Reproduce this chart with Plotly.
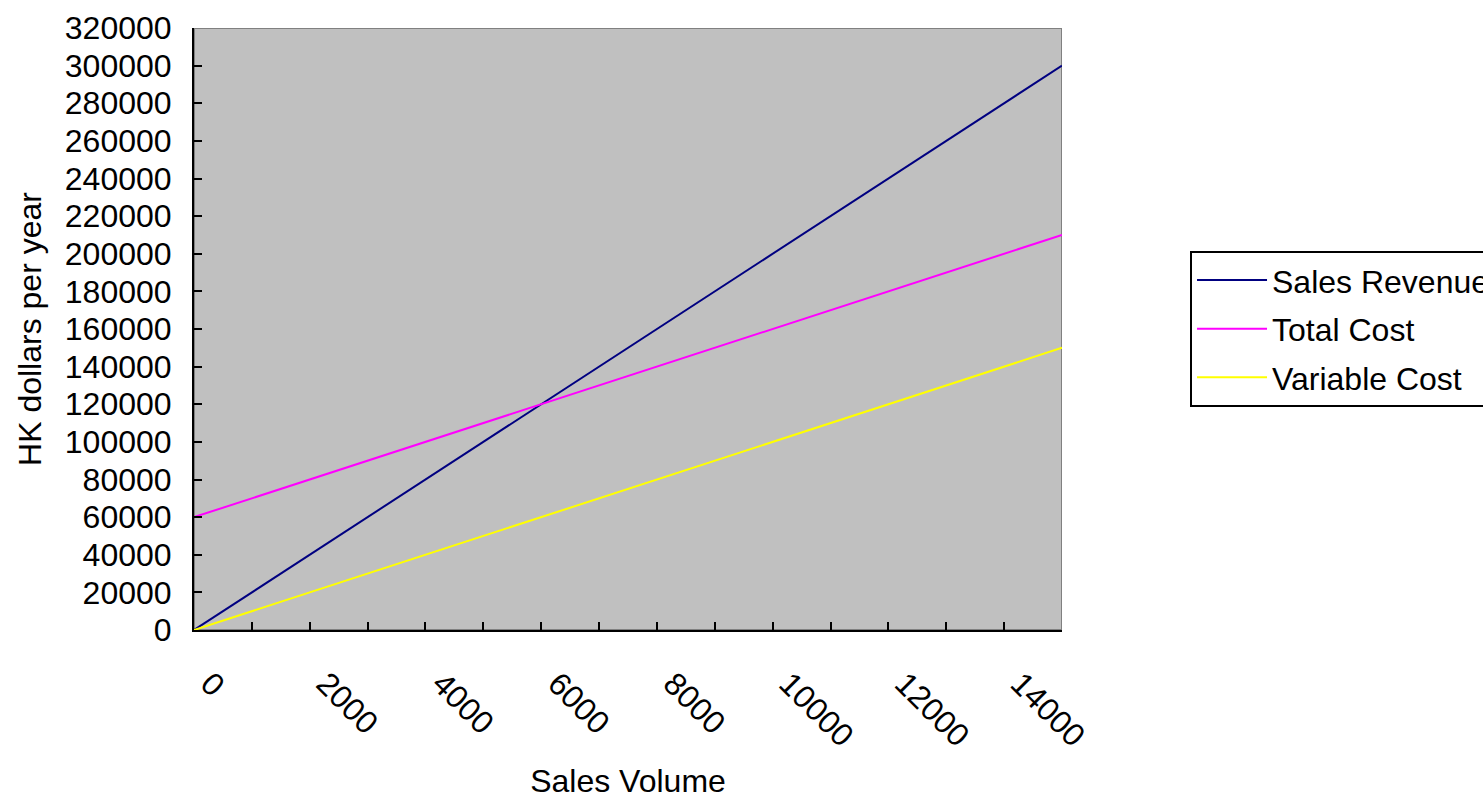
import plotly.graph_objects as go

# Break-even data: annual revenue and costs against units sold
volume = [0, 1000, 2000, 3000, 4000, 5000, 6000, 7000,
          8000, 9000, 10000, 11000, 12000, 13000, 14000, 15000]
sales_revenue = [0, 20000, 40000, 60000, 80000, 100000, 120000, 140000,
                 160000, 180000, 200000, 220000, 240000, 260000, 280000, 300000]
total_cost = [60000, 70000, 80000, 90000, 100000, 110000, 120000, 130000,
              140000, 150000, 160000, 170000, 180000, 190000, 200000, 210000]
variable_cost = [0, 10000, 20000, 30000, 40000, 50000, 60000, 70000,
                 80000, 90000, 100000, 110000, 120000, 130000, 140000, 150000]

# Category labels shown on every second tick
x_tick_labels = ["0", "", "2000", "", "4000", "", "6000", "", "8000", "",
                 "10000", "", "12000", "", "14000", ""]
y_ticks = list(range(0, 320001, 20000))

FONT = "Liberation Sans, Arial, sans-serif"
SIZE = 32

fig = go.Figure()
series = [
    ("Sales Revenue", sales_revenue, "#000080"),
    ("Total Cost", total_cost, "#FF00FF"),
    ("Variable Cost", variable_cost, "#FFFF00"),
]
for i, (name, vals, color) in enumerate(series):
    fig.add_trace(go.Scatter(
        x=volume, y=vals, name=name, mode="lines",
        line=dict(color=color, width=2),
        legendgroup=f"g{i}",
    ))

# Grey frame on the top and right edges of the plot area
fig.add_shape(type="rect", xref="x", yref="y",
              x0=0, x1=15000, y0=0, y1=320000,
              line=dict(color="#808080", width=2), layer="below")

fig.update_layout(
    width=1483, height=799,
    margin=dict(l=194, r=421, t=28, b=169, autoexpand=False),
    paper_bgcolor="white",
    plot_bgcolor="#C0C0C0",
    font=dict(family=FONT, size=SIZE, color="black"),
    showlegend=True,
    legend=dict(
        x=1.1475, y=0.630, xanchor="left", yanchor="top",
        bgcolor="white", bordercolor="black", borderwidth=2,
        font=dict(family=FONT, size=SIZE, color="black"),
        tracegroupgap=4,
        itemwidth=70,
    ),
    xaxis=dict(
        range=[0, 15000], tickmode="array",
        tickvals=volume, ticktext=x_tick_labels,
        tickangle=45, ticks="inside", ticklen=8, tickwidth=2, tickcolor="black",
        showline=True, linecolor="black", linewidth=2,
        showgrid=False, zeroline=False,
        ticklabelstandoff=20, ticklabelshift=16,
        title=dict(text="Sales Volume", font=dict(size=SIZE), standoff=40),
    ),
    yaxis=dict(
        range=[0, 320000], tickmode="array",
        tickvals=y_ticks, ticktext=[str(v) for v in y_ticks],
        ticks="inside", ticklen=8, tickwidth=2, tickcolor="black",
        showline=True, linecolor="black", linewidth=2,
        showgrid=False, zeroline=False,
        ticklabelstandoff=14,
        title=dict(text="HK dollars per year", font=dict(size=SIZE), standoff=14),
    ),
)

fig.write_html("out.html")
